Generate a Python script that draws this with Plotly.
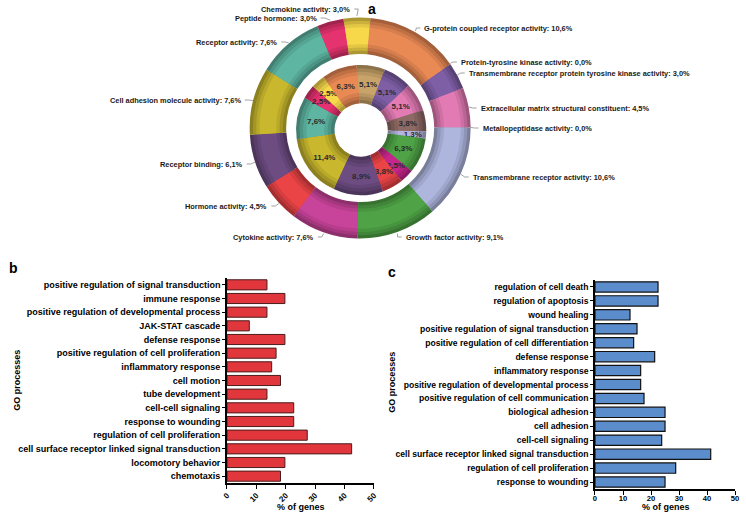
import plotly.graph_objects as go
import math

W, H = 746, 513

# ---------------- data ----------------
outer_names = ["G-protein coupled receptor activity", "Protein-tyrosine kinase activity",
               "Transmembrane receptor protein tyrosine kinase activity",
               "Extracellular matrix structural constituent", "Metallopeptidase activity",
               "Transmembrane receptor activity", "Growth factor activity", "Cytokine activity",
               "Hormone activity", "Receptor binding", "Cell adhesion molecule activity",
               "Receptor activity", "Peptide hormone", "Chemokine activity"]
outer_values = [10.6, 0.0, 3.0, 4.5, 0.0, 10.6, 9.1, 7.6, 4.5, 6.1, 7.6, 7.6, 3.0, 3.0]

inner_values = [5.1, 5.1, 5.1, 3.8, 1.3, 6.3, 2.5, 3.8, 8.9, 11.4, 7.6, 2.5, 2.5, 6.3]

b_cats = ["positive regulation of signal transduction", "immune response",
          "positive regulation of developmental process", "JAK-STAT cascade",
          "defense response", "positive regulation of cell proliferation",
          "inflammatory response", "cell motion", "tube development",
          "cell-cell signaling", "response to wounding", "regulation of cell proliferation",
          "cell surface receptor linked signal transduction", "locomotory behavior",
          "chemotaxis"]
b_vals = [13.6, 19.7, 13.6, 7.6, 19.7, 16.7, 15.2, 18.2, 13.6, 22.7, 22.7, 27.3, 42.4, 19.7, 18.2]

c_cats = ["regulation of cell death", "regulation of apoptosis", "wound healing",
          "positive regulation of signal transduction",
          "positive regulation of cell differentiation", "defense response",
          "inflammatory response", "positive regulation of developmental process",
          "positive regulation of cell communication", "biological adhesion",
          "cell adhesion", "cell-cell signaling",
          "cell surface receptor linked signal transduction",
          "regulation of cell proliferation", "response to wounding"]
c_vals = [22.5, 22.5, 12.5, 15.0, 13.8, 21.3, 16.3, 16.3, 17.5, 25.0, 25.0, 23.8, 41.3, 28.8, 25.0]

x_ticks = [0, 10, 20, 30, 40, 50]

# ---------------- styles ----------------
outer_colors = ["#E98A55", "#7E5FA6", "#7E5FA6", "#E27BB4", "#AEB6DE", "#AEB6DE", "#4FA346",
                "#C8449A", "#EA4446", "#6D4C82", "#C9B82E", "#5DB5A2", "#E5336F", "#F7D84A"]
inner_colors = ["#C9A46A", "#7E5FA6", "#E27BB4", "#8E6A64", "#B4B4E0", "#4FA346", "#C6268C",
                "#EA4446", "#6D4C82", "#C9B82E", "#5DB5A2", "#E5316F", "#F7D84A", "#E98A55"]

FONT = "Liberation Sans"


def px(x):
    return x / W


def py(y):
    return 1 - y / H


def shade(hexc, f):
    h = hexc.lstrip("#")
    r, g, b = int(h[0:2], 16), int(h[2:4], 16), int(h[4:6], 16)
    return "#%02x%02x%02x" % (int(r * f), int(g * f), int(b * f))


fig = go.Figure()


def add_ring(values, colors, cx, cy, r_in, r_out, rotation, text=None):
    factors = [0.70, 0.82, 0.92, 1.0]
    n = len(factors)
    for k, f in enumerate(factors):
        s = k * (r_out - r_in) * 0.09
        ri, ro = r_in + s, r_out - s
        last = (k == n - 1)
        fig.add_trace(go.Pie(
            values=values, sort=False, direction="clockwise", rotation=rotation,
            hole=ri / ro,
            domain=dict(x=[px(cx - ro), px(cx + ro)], y=[py(cy + ro), py(cy - ro)]),
            marker=dict(colors=[shade(c, f) for c in colors], line=dict(width=0)),
            textinfo="none" if (text is None or not last) else "text",
            text=text if (text is not None and last) else None,
            textposition="inside", insidetextorientation="horizontal",
            textfont=dict(family=FONT, size=8, color="#2a2a2a", weight="bold"),
            showlegend=False, hoverinfo="skip",
        ))


OCX, OCY = 360, 128
ICX, ICY = 361, 130
OUT_ROT = 5.3
IN_ROT = -4
add_ring(outer_values, outer_colors, OCX, OCY, 75, 112, OUT_ROT)
inner_text = [("%.1f%%" % v).replace(".", ",") for v in inner_values]
add_ring(inner_values, inner_colors, ICX, ICY, 27, 66, IN_ROT, text=inner_text)

# outer labels with leader lines
label_pos = [  # (x, y, side) in pixels: label anchor
    (423, 28, "l"), (460, 62, "l"), (468, 73, "l"), (480, 108, "l"), (482, 128, "l"),
    (472, 177, "l"), (404, 237, "l"), (315, 237, "r"), (268, 206, "r"), (243, 164, "r"),
    (241, 100, "r"), (278, 42, "r"), (318, 18, "r"), (352, 9, "r"),
]
tot = sum(outer_values)
cum = 0.0
for name, v, (lx, ly, side) in zip(outer_names, outer_values, label_pos):
    mid = OUT_ROT + (cum + v / 2) / tot * 360
    cum += v
    th = math.radians(mid)
    ex, ey = OCX + 112 * math.sin(th), OCY - 112 * math.cos(th)
    txt = "%s: %s%%" % (name, ("%.1f" % v).replace(".", ","))
    fig.add_annotation(x=px(lx), y=py(ly), xref="paper", yref="paper", text=txt,
                       showarrow=False, xanchor="left" if side == "l" else "right",
                       yanchor="middle",
                       font=dict(family=FONT, size=7.4, color="#1a1a1a", weight="bold"))
    sx = lx - 2 if side == "l" else lx + 2
    mx = sx - 4 if side == "l" else sx + 4
    fig.add_shape(type="path", xref="paper", yref="paper",
                  path="M %f %f L %f %f L %f %f" % (px(sx), py(ly), px(mx), py(ly), px(ex), py(ey)),
                  line=dict(color="#8a8a8a", width=0.8))

# ---------------- bar charts ----------------
fig.add_trace(go.Bar(x=b_vals, y=b_cats, orientation="h", xaxis="x", yaxis="y",
                     marker=dict(color="#E2363D", line=dict(color="#4a1c1c", width=1)),
                     showlegend=False, hoverinfo="skip"))
fig.add_trace(go.Bar(x=c_vals, y=c_cats, orientation="h", xaxis="x2", yaxis="y2",
                     marker=dict(color="#5B8DCC", line=dict(color="#111111", width=1.2)),
                     showlegend=False, hoverinfo="skip"))

axis_common = dict(showline=True, linecolor="black", linewidth=1.6, ticks="outside",
                   tickcolor="black", tickwidth=1.4, showgrid=False, zeroline=False)

fig.update_layout(
    width=W, height=H, margin=dict(l=0, r=0, t=0, b=0),
    paper_bgcolor="white", plot_bgcolor="white",
    bargap=0.26,
    uniformtext=dict(minsize=8, mode="show"),
    xaxis=dict(domain=[px(225), px(374)], anchor="y", range=[0, 50], tickvals=x_ticks,
               tickangle=-45, ticklen=4, ticklabelstandoff=-1,
               tickfont=dict(family=FONT, size=8, color="black", weight="bold"), **axis_common),
    yaxis=dict(domain=[py(483), py(278)], anchor="x", autorange="reversed", ticklen=3,
               tickfont=dict(family=FONT, size=9, color="black", weight="bold"), **axis_common),
    xaxis2=dict(domain=[px(598), px(740)], anchor="y2", range=[0, 50], tickvals=x_ticks,
                ticklen=4, ticklabelstandoff=-3,
                tickfont=dict(family=FONT, size=7.6, color="black", weight="bold"), **axis_common),
    yaxis2=dict(domain=[py(489), py(280)], anchor="x2", autorange="reversed", ticklen=3,
                tickfont=dict(family=FONT, size=8.6, color="black", weight="bold"), **axis_common),
)


def ann(x, y, text, size, angle=0):
    fig.add_annotation(x=px(x), y=py(y), xref="paper", yref="paper", text=text,
                       showarrow=False, textangle=angle, xanchor="center", yanchor="middle",
                       font=dict(family=FONT, size=size, color="black", weight="bold"))


ann(300, 507, "% of genes", 9)
ann(670, 507, "% of genes", 9)
ann(12, 380, "GO processes", 9, -90)
ann(392, 382, "GO processes", 9, -90)
ann(372, 9, "a", 14)
ann(9, 268, "b", 14)
ann(392, 272, "c", 14)

fig.write_html("out.html", config={"displayModeBar": False},
               post_script="document.body.style.margin='0px';document.body.style.padding='0px';")
